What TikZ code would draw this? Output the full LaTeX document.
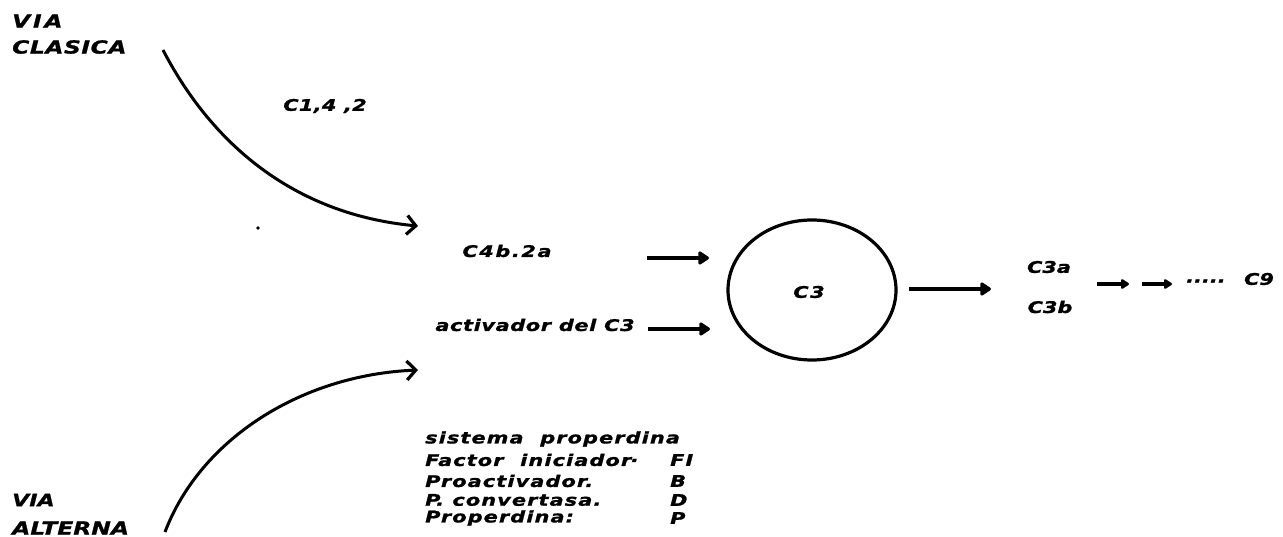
\documentclass[tikz,border=0pt]{standalone}
\usepackage{fontspec}
\setmainfont{DejaVu Sans}
\newfontfamily\widesans{DejaVu Sans}[FakeStretch=1.3,FakeBold=1.2]
\usetikzlibrary{arrows.meta,shapes.geometric}
\begin{document}
\begin{tikzpicture}[x=1pt,y=-1pt,
  big/.style={inner sep=0pt,font=\widesans\bfseries\itshape\fontsize{18}{18}\selectfont},
  lbl/.style={inner sep=0pt,font=\widesans\bfseries\itshape\fontsize{16}{16}\selectfont},
  legend/.style={inner sep=0pt,anchor=west,font=\widesans\bfseries\itshape\fontsize{16}{16}\selectfont\addfontfeatures{LetterSpace=7}},
  flow/.style={line width=4.2pt,-{Triangle[length=12pt,width=15pt,round]}},
  tiny/.style={line width=3.4pt,-{Triangle[length=9pt,width=11pt,round]}},
  path/.style={line width=3pt,-{Straight Barb[length=9pt,width=19pt,line width=3.2pt]}}]
\useasboundingbox (0,0) rectangle (1283,537);

% pathway names
\node[big,anchor=west] (via1) at (12,21) {\addfontfeatures{LetterSpace=15}VIA};
\node[big,anchor=west] (clasica) at (12,47) {\addfontfeatures{LetterSpace=3}CLASICA};
\node[big,anchor=west,font=\widesans\bfseries\itshape\fontsize{17}{17}\selectfont] (via2) at (12,500) {VIA};
\node[big,anchor=west] (alterna) at (12,528) {ALTERNA};

% curved entry arrows
\coordinate (cstart) at (163,50);
\coordinate (cend) at (418,226);
\coordinate (astart) at (165,532);
\coordinate (aend) at (418,370);
\draw[path] (cstart) .. controls (215,150) and (300,215) .. (cend);
\draw[path] (astart) .. controls (200,440) and (300,375) .. (aend);
\node[lbl] (c142) at (325,106) {\addfontfeatures{LetterSpace=2}C1,4 ,2};
\fill (258,228) circle (1.8pt);

% activators
\node[lbl] (c4b) at (507,251) {\addfontfeatures{LetterSpace=10}C4b.2a};
\node[lbl] (act) at (535,325) {\addfontfeatures{LetterSpace=4}activador del C3};
\coordinate (a1s) at (647,258);
\coordinate (a1e) at (709,258);
\coordinate (a2s) at (648,329);
\coordinate (a2e) at (710,329);
\draw[flow] (a1s) -- (a1e);
\draw[flow] (a2s) -- (a2e);

% C3 circle
\node[draw,line width=3.2pt,ellipse,inner sep=0pt,minimum width=168pt,minimum height=140pt] (circ) at (812,290) {};
\node[lbl] (c3) at (809,292) {\addfontfeatures{LetterSpace=10}C3};

% products
\node[lbl] (c3a) at (1049,267) {C3a};
\node[lbl] (c3b) at (1050,307) {C3b};
\coordinate (o1s) at (909,289);
\coordinate (o1e) at (991,289);
\draw[flow] (o1s) -- (o1e);
\coordinate (t1s) at (1097,284);
\coordinate (t1e) at (1129,284);
\coordinate (t2s) at (1142,284);
\coordinate (t2e) at (1172,284);
\draw[tiny] (t1s) -- (t1e);
\draw[tiny] (t2s) -- (t2e);
\node[lbl,anchor=west] (dots) at (1186,281) {.....};
\node[lbl] (c9) at (1259,279) {C9};

% properdin system legend
\node[legend] (l1) at (425,439) {sistema\ \ properdina};
\node[legend] (l2) at (425,460) {Factor\ \ iniciador\raisebox{4pt}{.}};
\node[legend] (l3) at (425,481) {Proactivador.};
\node[legend] (l4) at (425,500) {P. convertasa.};
\node[legend] (l5) at (425,518) {Properdina:};
\node[legend] (v2) at (670,460) {FI};
\node[legend] (v3) at (670,481) {B};
\node[legend] (v4) at (670,500) {D};
\node[legend] (v5) at (670,518) {P};
\end{tikzpicture}
\end{document}
